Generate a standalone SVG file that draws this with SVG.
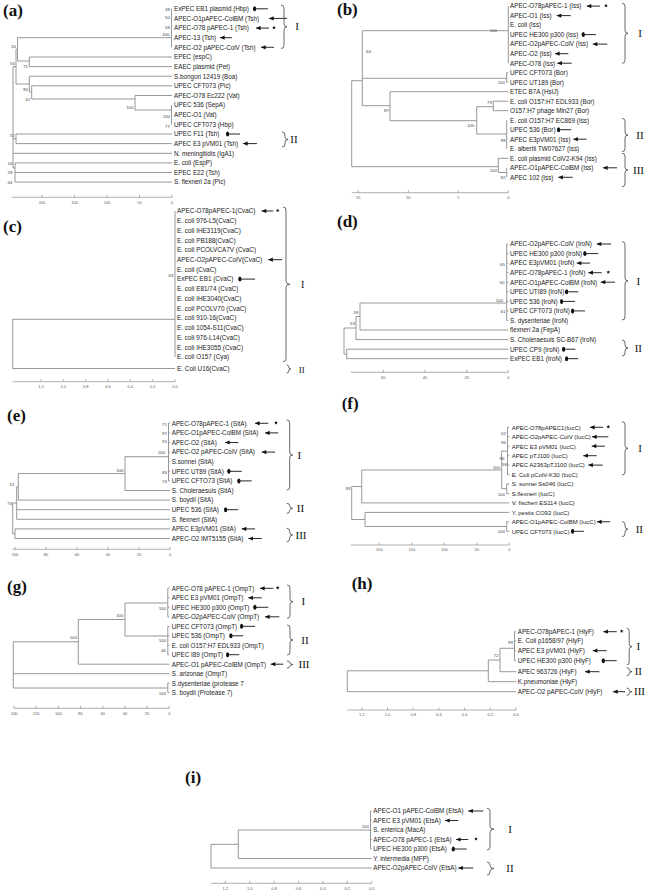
<svg xmlns="http://www.w3.org/2000/svg" xmlns:xlink="http://www.w3.org/1999/xlink" width="646" height="892" viewBox="0 0 646 892">
<style>
text{font-family:"Liberation Sans",Arial,sans-serif;fill:#222}
.pl{font-family:"Liberation Serif","Times New Roman",serif;font-weight:bold;font-size:17px;fill:#111}
.rn{font-family:"Liberation Serif","Times New Roman",serif;font-size:11px;fill:#111;text-anchor:middle}
.bs{font-size:4.4px;fill:#444;text-anchor:end}
.tk{font-size:4px;fill:#555;text-anchor:middle}
.tr{fill:none;stroke:#8c8c8c;stroke-width:0.9}
.ax{fill:none;stroke:#8c8c8c;stroke-width:0.7}
.br{fill:none;stroke:#444;stroke-width:0.8}
.ap{stroke:#111;stroke-width:0.9;marker-start:url(#tri)}
.up{stroke:#111;stroke-width:0.9;marker-start:url(#ov)}
.st{fill:#111}
</style>
<defs>
<marker id="tri" markerUnits="userSpaceOnUse" markerWidth="5" markerHeight="5" viewBox="0 0 5 5" refX="0" refY="2.5" orient="0"><path d="M0,2.5 L4.6,0.4 L4.6,4.6 Z" fill="#111"/></marker>
<marker id="ov" markerUnits="userSpaceOnUse" markerWidth="5" markerHeight="6" viewBox="0 0 5 6" refX="0.3" refY="3" orient="0"><ellipse cx="1.9" cy="3" rx="1.6" ry="2.5" fill="#111"/></marker>
<polygon id="star" class="st" points="0,-2 0.5,-0.69 1.9,-0.62 0.81,0.26 1.18,1.62 0,0.85 -1.18,1.62 -0.81,0.26 -1.9,-0.62 -0.5,-0.69"/>
</defs>
<rect width="646" height="892" fill="#fff"/>

<!-- PANEL A -->
<g id="panel-a" font-size="6.3">
<text class="pl" x="3" y="15.5">(a)</text>
<g id="a-connectors">
<path class="tr" d="M171.5,8.8V47.3M17.5,37.7H171.5M29.3,57V66.6M29.3,57H172M29.3,66.6H172M17.5,61H29.3M17.5,37.7V61M16,49.3V84M16,49.3H17.5M16,84H29.3M29.3,76.2V92M29.3,76.2H172M29.3,92H31.7M31.7,85.8V99M31.7,85.8H172M31.7,99H135M135,95.5V110M135,95.5H172M135,110H171.5M171.5,105.1V124.4M13,66.6V168M13,66.6H16M13,138.8H16M16,134V143.6M16,134H172M16,143.6H172M13,153.3H172M13,168H15M15,162.9V182.1M15,162.9H172M15,172.5H172M15,182.1H172"/>
<path class="ax" d="M12.3,197.3H172M42,194.8V197.3M74.5,194.8V197.3M107,194.8V197.3M139.5,194.8V197.3M172,194.8V197.3"/>
</g>
<g id="a-support">
<text class="bs" x="170" y="10.6">48</text><text class="bs" x="170" y="19.2">50</text><text class="bs" x="170" y="28.6">58</text><text class="bs" x="169.5" y="35.5">100</text>
<text class="bs" x="16" y="48">26</text><text class="bs" x="28" y="68">71</text><text class="bs" x="28" y="91">90</text><text class="bs" x="30.5" y="100.5">62</text>
<text class="bs" x="133.5" y="109">100</text><text class="bs" x="170" y="118">100</text><text class="bs" x="170" y="127.5">77</text>
<text class="bs" x="15" y="64.5">55</text><text class="bs" x="14.5" y="136.5">72</text><text class="bs" x="12.5" y="164.5">16</text><text class="bs" x="12.5" y="174">29</text><text class="bs" x="12.5" y="183.5">44</text>
</g>
<g id="a-scale">
<text class="tk" x="42" y="203.5">200</text><text class="tk" x="74.5" y="203.5">150</text><text class="tk" x="107" y="203.5">100</text><text class="tk" x="139.5" y="203.5">50</text><text class="tk" x="172" y="203.5">0</text>
</g>
<g id="a-n0"><text x="174" y="11.1">ExPEC EB1 plasmid (Hbp)</text><line class="up" x1="253" y1="8.8" x2="268" y2="8.8"/></g>
<g id="a-n1"><text x="174" y="20.7">APEC-O1pAPEC-ColBM (Tsh)</text><line class="ap" x1="269" y1="18.4" x2="287" y2="18.4"/></g>
<g id="a-n2"><text x="174" y="30.4">APEC-O78 pAPEC-1 (Tsh)</text><line class="ap" x1="256" y1="28.1" x2="269" y2="28.1"/><use href="#star" x="274" y="27.6"/></g>
<g id="a-n3"><text x="174" y="40">APEC-13 (Tsh)</text><line class="ap" x1="220" y1="37.7" x2="232" y2="37.7"/></g>
<g id="a-n4"><text x="174" y="49.6">APEC-O2 pAPEC-ColV (Tsh)</text><line class="ap" x1="261" y1="47.3" x2="274" y2="47.3"/></g>
<g id="a-n5"><text x="174" y="59.3">EPEC (espC)</text></g>
<g id="a-n6"><text x="174" y="68.9">EAEC plasmid (Pet)</text></g>
<g id="a-n7"><text x="174" y="78.5">S.bongori 12419 (Boa)</text></g>
<g id="a-n8"><text x="174" y="88.1">UPEC CFT073 (Pic)</text></g>
<g id="a-n9"><text x="174" y="97.8">APEC-O78 Ec222 (Vat)</text></g>
<g id="a-n10"><text x="174" y="107.4">UPEC 536 (SepA)</text></g>
<g id="a-n11"><text x="174" y="117">APEC-O1 (Vat)</text></g>
<g id="a-n12"><text x="174" y="126.7">UPEC CFT073 (Hbp)</text></g>
<g id="a-n13"><text x="174" y="136.3">UPEC F11 (Tsh)</text><line class="up" x1="226" y1="134" x2="240" y2="134"/></g>
<g id="a-n14"><text x="174" y="145.9">APEC E3 pVM01 (Tsh)</text><line class="ap" x1="243" y1="143.6" x2="257" y2="143.6"/></g>
<g id="a-n15"><text x="174" y="155.6">N. meningitidis (IgA1)</text></g>
<g id="a-n16"><text x="174" y="165.2">E. coli (EspP)</text></g>
<g id="a-n17"><text x="174" y="174.8">EPEC E22 (Tsh)</text></g>
<g id="a-n18"><text x="174" y="184.4">S. flexneri 2a (Pic)</text></g>
<g id="a-groups">
<path class="br" d="M281,5 Q284,5 284,8 L284,23.75 Q284,26.75 287,26.75 Q284,26.75 284,29.75 L284,45.5 Q284,48.5 281,48.5"/>
<path class="br" d="M282,132 Q285,132 285,135 L285,136.5 Q285,139.5 288,139.5 Q285,139.5 285,142.5 L285,144 Q285,147 282,147"/>
<text class="rn" x="297" y="30">I</text><text class="rn" x="294" y="143">II</text>
</g>
</g>

<!-- PANEL B -->
<g id="panel-b" font-size="6.3">
<text class="pl" x="337" y="15">(b)</text>
<g id="b-connectors">
<path class="tr" d="M508.3,6.1V63.2M362.3,30.7H508.3M506.7,72.7V82.2M506.7,72.7H508.3M506.7,82.2H508.3M362.3,78.3H506.7M362.3,30.7V105.7M351.7,80.7H362.3M362.3,105.7H390M390,91.7V120.7M390,91.7H508.3M390,120.7H476.7M476.7,106.7V134M476.7,106.7H493.3M493.3,101.2V110.7M493.3,101.2H508.3M493.3,110.7H508.3M476.7,134H506.7M506.7,120.2V148.7M351.7,80.7V166.7M351.7,166.7H498.3M498.3,158.3V172.5M498.3,158.3H508.3M498.3,172.5H506.7M506.7,167.8V177.3"/>
<path class="ax" d="M351.7,192.7H508.3M358.3,190.2V192.7M408.3,190.2V192.7M458.3,190.2V192.7M508.3,190.2V192.7"/>
</g>
<g id="b-support">
<text class="bs" x="497" y="32">100</text><text class="bs" x="371" y="53">64</text><text class="bs" x="505" y="84">100</text><text class="bs" x="389" y="112">87</text><text class="bs" x="492" y="104">79</text><text class="bs" x="474.5" y="126.5">100</text><text class="bs" x="505.5" y="141.5">99</text><text class="bs" x="497" y="171.5">100</text><text class="bs" x="505.5" y="179">92</text>
</g>
<g id="b-scale">
<text class="tk" x="358.3" y="199">15</text><text class="tk" x="408.3" y="199">10</text><text class="tk" x="458.3" y="199">5</text><text class="tk" x="508.3" y="199">0</text>
</g>
<g id="b-n0"><text x="510" y="8.4">APEC-O78pAPEC-1 (Iss)</text><line class="ap" x1="586.7" y1="6.1" x2="600" y2="6.1"/><use href="#star" x="606" y="5.6"/></g>
<g id="b-n1"><text x="510" y="17.9">APEC-O1 (Iss)</text><line class="ap" x1="556.7" y1="15.6" x2="570.7" y2="15.6"/></g>
<g id="b-n2"><text x="510" y="27.4">E. coli (Iss)</text></g>
<g id="b-n3"><text x="510" y="36.9">UPEC HE300 p300 (Iss)</text><line class="up" x1="581.7" y1="34.6" x2="596" y2="34.6"/></g>
<g id="b-n4"><text x="510" y="46.4">APEC-O2pAPEC-ColV (Iss)</text><line class="ap" x1="592.7" y1="44.1" x2="607.3" y2="44.1"/></g>
<g id="b-n5"><text x="510" y="56">APEC-O2 (Iss)</text><line class="ap" x1="555" y1="53.7" x2="568.3" y2="53.7"/></g>
<g id="b-n6"><text x="510" y="65.5">APEC-O78 (Iss)</text><line class="ap" x1="557.3" y1="63.2" x2="571.7" y2="63.2"/></g>
<g id="b-n7"><text x="510" y="75">UPEC CFT073 (Bor)</text></g>
<g id="b-n8"><text x="510" y="84.5">UPEC UT189 (Bor)</text></g>
<g id="b-n9"><text x="510" y="94">ETEC B7A (HsIJ)</text></g>
<g id="b-n10"><text x="510" y="103.5">E. coli O157:H7 EDL933 (Bor)</text></g>
<g id="b-n11"><text x="510" y="113">O157:H7 phage Min27 (Bor)</text></g>
<g id="b-n12"><text x="510" y="122.5">E. coli O157:H7 EC869 (Iss)</text></g>
<g id="b-n13"><text x="510" y="132">UPEC 536 (Bor)</text><line class="up" x1="557" y1="129.7" x2="571.3" y2="129.7"/></g>
<g id="b-n14"><text x="510" y="141.5">APEC E3pVM01 (Iss)</text><line class="ap" x1="573.3" y1="139.2" x2="586.7" y2="139.2"/></g>
<g id="b-n15"><text x="510" y="151">E. albertii TW07627 (Iss)</text></g>
<g id="b-n16"><text x="510" y="160.6">E. coli plasmid ColV2-K94 (Iss)</text></g>
<g id="b-n17"><text x="510" y="170.1">APEC-O1pAPEC-ColBM (Iss)</text><line class="ap" x1="603" y1="167.8" x2="617" y2="167.8"/></g>
<g id="b-n18"><text x="510" y="179.6">APEC 102 (Iss)</text><line class="ap" x1="558.3" y1="177.3" x2="572.7" y2="177.3"/></g>
<g id="b-groups">
<path class="br" d="M622,3.3 Q625,3.3 625,6.3 L625,30.3 Q625,33.3 628,33.3 Q625,33.3 625,36.3 L625,60.3 Q625,63.3 622,63.3"/>
<path class="br" d="M622,118.3 Q625,118.3 625,121.3 L625,132 Q625,135 628,135 Q625,135 625,138 L625,148.7 Q625,151.7 622,151.7"/>
<path class="br" d="M622,153.3 Q625,153.3 625,156.3 L625,167 Q625,170 628,170 Q625,170 625,173 L625,183.7 Q625,186.7 622,186.7"/>
<text class="rn" x="640" y="37">I</text><text class="rn" x="640" y="138.5">II</text><text class="rn" x="638.5" y="173.5">III</text>
</g>
</g>

<!-- PANEL C -->
<g id="panel-c" font-size="6.4">
<text class="pl" x="3" y="232">(c)</text>
<g id="c-connectors">
<path class="tr" d="M175,211V357M12.7,319.3V368.5M12.7,319.3H175M12.7,368.5H175"/>
<path class="ax" d="M12.7,381.7H175M41,379.2V381.7M63.3,379.2V381.7M85.7,379.2V381.7M108,379.2V381.7M130.3,379.2V381.7M152.7,379.2V381.7M175,379.2V381.7"/>
</g>
<g id="c-support"><text class="bs" x="173.5" y="277">63</text></g>
<g id="c-scale">
<text class="tk" x="41" y="388">1.2</text><text class="tk" x="63.3" y="388">1.0</text><text class="tk" x="85.7" y="388">0.8</text><text class="tk" x="108" y="388">0.6</text><text class="tk" x="130.3" y="388">0.4</text><text class="tk" x="152.7" y="388">0.2</text><text class="tk" x="175" y="388">0.0</text>
</g>
<g id="c-n0"><text x="177" y="213.3">APEC-O78pAPEC-1(CvaC)</text><line class="ap" x1="261.7" y1="211" x2="273.3" y2="211"/><use href="#star" x="277.7" y="210.5"/></g>
<g id="c-n1"><text x="177" y="223">E. coli 976-L5(CvaC)</text></g>
<g id="c-n2"><text x="177" y="232.8">E. coli IHE3119(CvaC)</text></g>
<g id="c-n3"><text x="177" y="242.5">E. coli PB188(CvaC)</text></g>
<g id="c-n4"><text x="177" y="252.2">E. coli PCOLVCA7V (CvaC)</text></g>
<g id="c-n5"><text x="177" y="262">APEC-O2pAPEC-ColV(CvaC)</text><line class="ap" x1="268.3" y1="259.7" x2="282" y2="259.7"/></g>
<g id="c-n6"><text x="177" y="271.7">E. coli (CvaC)</text></g>
<g id="c-n7"><text x="177" y="281.4">ExPEC EB1 (CvaC)</text><line class="up" x1="238.3" y1="279.1" x2="255" y2="279.1"/></g>
<g id="c-n8"><text x="177" y="291.1">E. coli E81/74 (CvaC)</text></g>
<g id="c-n9"><text x="177" y="300.9">E. coli IHE3040(CvaC)</text></g>
<g id="c-n10"><text x="177" y="310.6">E. coli PCOLV70 (CvaC)</text></g>
<g id="c-n11"><text x="177" y="320.3">E. coli 910-16(CvaC)</text></g>
<g id="c-n12"><text x="177" y="330.1">E. coli 1054-S11(CvaC)</text></g>
<g id="c-n13"><text x="177" y="339.8">E. coli 976-L14(CvaC)</text></g>
<g id="c-n14"><text x="177" y="349.5">E. coli IHE3055 (CvaC)</text></g>
<g id="c-n15"><text x="177" y="359.3">E. coli O157 (Cya)</text></g>
<g id="c-n16"><text x="177" y="370.8">E. Coli U16(CvaC)</text></g>
<g id="c-groups">
<path class="br" d="M283,207 Q286,207 286,210 L286,281.3 Q286,284.3 290,284.3 Q286,284.3 286,287.3 L286,358.7 Q286,361.7 283,361.7"/>
<path class="br" d="M286.7,365 Q288.7,365 288.7,367 Q288.7,369 291,369 Q288.7,369 288.7,371 Q288.7,373 286.7,373"/>
<text class="rn" x="302.7" y="288" style="font-size:10px">I</text><text class="rn" x="301.7" y="372.5" style="font-size:9px">II</text>
</g>
</g>

<!-- PANEL D -->
<g id="panel-d" font-size="6.3">
<text class="pl" x="337" y="227">(d)</text>
<g id="d-connectors">
<path class="tr" d="M506.7,244V320.5M506.7,244H508.3M506.7,253.6H508.3M506.7,263.1H508.3M506.7,272.7H508.3M506.7,282.2H508.3M506.7,291.8H508.3M506.7,301.4H508.3M506.7,310.9H508.3M506.7,320.5H508.3M360,303H506.7M360,303V330M360,330H508.3M356,316.5V339.6M356,316.5H360M356,339.6H508.3M344,328V354M344,328H356M344,354H346.7M346.7,349.2V358.7M346.7,349.2H508.3M346.7,358.7H508.3"/>
<path class="ax" d="M350.7,372.3H508.3M383.3,369.8V372.3M425,369.8V372.3M466.7,369.8V372.3M508.3,369.8V372.3"/>
</g>
<g id="d-support">
<text class="bs" x="505" y="265.5">65</text><text class="bs" x="504.5" y="284">50</text><text class="bs" x="503" y="301.5">100</text><text class="bs" x="505.5" y="312.5">61</text><text class="bs" x="358.5" y="313.5">59</text><text class="bs" x="355" y="324.5">53</text>
</g>
<g id="d-scale">
<text class="tk" x="383.3" y="378.7">60</text><text class="tk" x="425" y="378.7">40</text><text class="tk" x="466.7" y="378.7">20</text><text class="tk" x="508.3" y="378.7">0</text>
</g>
<g id="d-n0"><text x="510" y="246.3">APEC-O2pAPEC-ColV (IroN)</text><line class="ap" x1="596.7" y1="244" x2="611" y2="244"/></g>
<g id="d-n1"><text x="510" y="255.9">UPEC HE300 p300 (IroN)</text><line class="up" x1="583.3" y1="253.6" x2="598.3" y2="253.6"/></g>
<g id="d-n2"><text x="510" y="265.4">APEC E3pVM01 (IroN)</text><line class="ap" x1="576.7" y1="263.1" x2="590" y2="263.1"/></g>
<g id="d-n3"><text x="510" y="275">APEC-O78pAPEC-1 (IroN)</text><line class="ap" x1="588.3" y1="272.7" x2="601.7" y2="272.7"/><use href="#star" x="608.3" y="272.2"/></g>
<g id="d-n4"><text x="510" y="284.5">APEC-O1pAPEC-ColBM (IroN)</text><line class="ap" x1="600.7" y1="282.2" x2="615" y2="282.2"/></g>
<g id="d-n5"><text x="510" y="294.1">UPEC UTI89 (IroN)</text><line class="up" x1="565" y1="291.8" x2="578.3" y2="291.8"/></g>
<g id="d-n6"><text x="510" y="303.7">UPEC 536 (IroN)</text><line class="up" x1="560" y1="301.4" x2="575" y2="301.4"/></g>
<g id="d-n7"><text x="510" y="313.2">UPEC CFT073 (IroN)</text><line class="up" x1="571" y1="310.9" x2="585" y2="310.9"/></g>
<g id="d-n8"><text x="510" y="322.8">S. dysenteriae (IroN)</text></g>
<g id="d-n9"><text x="510" y="332.3">flexneri 2a (FepA)</text></g>
<g id="d-n10"><text x="510" y="341.9">S. Choleraesuis SC-B67 (IroN)</text></g>
<g id="d-n11"><text x="510" y="351.5">UPEC CP9 (IroN)</text><line class="up" x1="562" y1="349.2" x2="575.3" y2="349.2"/></g>
<g id="d-n12"><text x="510" y="361">ExPEC EB1 (IroN)</text><line class="up" x1="565" y1="358.7" x2="578.3" y2="358.7"/></g>
<g id="d-groups">
<path class="br" d="M622,241.7 Q625,241.7 625,244.7 L625,277.9 Q625,280.9 628,280.9 Q625,280.9 625,283.9 L625,317 Q625,320 622,320"/>
<path class="br" d="M622,340 Q625,340 625,343 L625,345 Q625,348 628,348 Q625,348 625,351 L625,353 Q625,356 622,356"/>
<text class="rn" x="638.3" y="284.5">I</text><text class="rn" x="638.3" y="351.5">II</text>
</g>
</g>

<!-- PANEL E -->
<g id="panel-e" font-size="6.3">
<text class="pl" x="7" y="420.5">(e)</text>
<g id="e-connectors">
<path class="tr" d="M168.5,423.3V480.9M168.5,423.3H170M168.5,432.9H170M168.5,442.5H170M168.5,452.1H170M168.5,461.7H170M168.5,471.3H170M168.5,480.9H170M125,456.7H168.5M125,456.7V490.5M125,490.5H170M18.3,473.6H125M18.3,473.6V500.1M18.3,500.1H170M16.7,486.8V519.3M16.7,486.8H18.3M16.7,509.7H170M16.7,519.3H170M12.7,503V533.7M12.7,503H16.7M12.7,533.7H15M15,528.9V538.5M15,528.9H170M15,538.5H170"/>
<path class="ax" d="M12.7,549.3H170M15,546.8V549.3M46,546.8V549.3M77,546.8V549.3M108,546.8V549.3M139,546.8V549.3M170,546.8V549.3"/>
</g>
<g id="e-support">
<text class="bs" x="167" y="425.5">71</text><text class="bs" x="167" y="434.5">97</text><text class="bs" x="167" y="442.5">55</text><text class="bs" x="165" y="453.5">100</text><text class="bs" x="167" y="474">83</text><text class="bs" x="167" y="482.5">74</text><text class="bs" x="123.5" y="471.5">100</text><text class="bs" x="14.5" y="485.5">51</text><text class="bs" x="12" y="505">73</text>
</g>
<g id="e-scale">
<text class="tk" x="15" y="555.7">100</text><text class="tk" x="46" y="555.7">80</text><text class="tk" x="77" y="555.7">60</text><text class="tk" x="108" y="555.7">40</text><text class="tk" x="139" y="555.7">20</text><text class="tk" x="170" y="555.7">0</text>
</g>
<g id="e-n0"><text x="171.7" y="425.6">APEC-O78pAPEC-1 (SitA)</text><line class="ap" x1="255" y1="423.3" x2="268.3" y2="423.3"/><use href="#star" x="276" y="422.8"/></g>
<g id="e-n1"><text x="171.7" y="435.2">APEC-O1pAPEC-ColBM (SitA)</text><line class="ap" x1="265" y1="432.9" x2="278.3" y2="432.9"/></g>
<g id="e-n2"><text x="171.7" y="444.8">APEC-O2 (SitA)</text><line class="ap" x1="225" y1="442.5" x2="238.3" y2="442.5"/></g>
<g id="e-n3"><text x="171.7" y="454.4">APEC-O2 pAPEC-ColV (SitA)</text><line class="ap" x1="261.7" y1="452.1" x2="275" y2="452.1"/></g>
<g id="e-n4"><text x="171.7" y="464">S.sonnei (SitA)</text></g>
<g id="e-n5"><text x="171.7" y="473.6">UPEC UT89 (SitA)</text><line class="up" x1="227.3" y1="471.3" x2="241.7" y2="471.3"/></g>
<g id="e-n6"><text x="171.7" y="483.2">UPEC CFTO73 (SitA)</text><line class="up" x1="237.3" y1="480.9" x2="251.7" y2="480.9"/></g>
<g id="e-n7"><text x="171.7" y="492.8">S. Choleraesuis (SitA)</text></g>
<g id="e-n8"><text x="171.7" y="502.4">S. boydii (SitA)</text></g>
<g id="e-n9"><text x="171.7" y="512">UPEC 536 (SitA)</text><line class="up" x1="224" y1="509.7" x2="238.3" y2="509.7"/></g>
<g id="e-n10"><text x="171.7" y="521.6">S. flexneri (SitA)</text></g>
<g id="e-n11"><text x="171.7" y="531.2">APEC E3pVM01 (SitA)</text><line class="ap" x1="241.7" y1="528.9" x2="255" y2="528.9"/></g>
<g id="e-n12"><text x="171.7" y="540.8">APEC-O2 IMT5155 (SitA)</text><line class="ap" x1="248.3" y1="538.5" x2="261.7" y2="538.5"/></g>
<g id="e-groups">
<path class="br" d="M286.7,420 Q289.7,420 289.7,423 L289.7,452 Q289.7,455 292.7,455 Q289.7,455 289.7,458 L289.7,487 Q289.7,490 286.7,490"/>
<path class="br" d="M286.7,503.3 Q289.7,503.3 289.7,505.8 Q289.7,508.3 292.7,508.3 Q289.7,508.3 289.7,510.8 Q289.7,513.3 286.7,513.3"/>
<path class="br" d="M286.7,528.3 Q289.7,528.3 289.7,531.3 L289.7,532 Q289.7,535 292.7,535 Q289.7,535 289.7,538 L289.7,538.7 Q289.7,541.7 286.7,541.7"/>
<text class="rn" x="299.3" y="458.5">I</text><text class="rn" x="300.5" y="511.8">II</text><text class="rn" x="301" y="538.5">III</text>
</g>
</g>

<!-- PANEL F -->
<g id="panel-f" font-size="6">
<text class="pl" x="341.7" y="408.5">(f)</text>
<g id="f-connectors">
<path class="tr" d="M507.5,427.3V474.6M507.5,427.3H509.3M507.5,436.8H509.3M507.5,446.2H509.3M507.5,455.7H509.3M507.5,465.1H509.3M507.5,474.6H509.3M501.7,451H507.5M501.7,451V488.7M501.7,488.7H506.7M506.7,484V493.5M506.7,484H509.3M506.7,493.5H509.3M361.7,470H501.7M361.7,470V502.9M361.7,502.9H509.3M351.7,486.5V519.5M351.7,486.5H361.7M351.7,519.5H365M365,512.4V526.5M365,512.4H509.3M365,526.5H506.7M506.7,521.8V531.3M506.7,521.8H509.3M506.7,531.3H509.3"/>
<path class="ax" d="M350.7,545H509.3M379.3,542.5V545M411.8,542.5V545M444.3,542.5V545M476.8,542.5V545M509.3,542.5V545"/>
</g>
<g id="f-support">
<text class="bs" x="506" y="434.5">62</text><text class="bs" x="506" y="444">96</text><text class="bs" x="504.5" y="459.5">96</text><text class="bs" x="507" y="466">59</text><text class="bs" x="500" y="468.5">100</text><text class="bs" x="505" y="495.5">100</text><text class="bs" x="350.5" y="489.5">93</text><text class="bs" x="505" y="533">100</text>
</g>
<g id="f-scale">
<text class="tk" x="379.3" y="551.4">200</text><text class="tk" x="411.8" y="551.4">150</text><text class="tk" x="444.3" y="551.4">100</text><text class="tk" x="476.8" y="551.4">50</text><text class="tk" x="509.3" y="551.4">0</text>
</g>
<g id="f-n0"><text x="511.7" y="429.6">APEC-O78pAPEC1(IucC)</text><line class="ap" x1="590" y1="427.3" x2="603.3" y2="427.3"/><use href="#star" x="608.3" y="426.8"/></g>
<g id="f-n1"><text x="511.7" y="439.1">APEC-O2pAPEC-ColV (IucC)</text><line class="ap" x1="592" y1="436.8" x2="608.3" y2="436.8"/></g>
<g id="f-n2"><text x="511.7" y="448.5">APEC E3 pVM01 (IucC)</text><line class="ap" x1="591.7" y1="446.2" x2="605" y2="446.2"/></g>
<g id="f-n3"><text x="511.7" y="458">APEC pTJ100 (IucC)</text><line class="ap" x1="583.3" y1="455.7" x2="596.7" y2="455.7"/></g>
<g id="f-n4"><text x="511.7" y="467.4">APEC A2363pTJ100 (IucC)</text><line class="ap" x1="588.3" y1="465.1" x2="602.7" y2="465.1"/></g>
<g id="f-n5"><text x="511.7" y="476.9">E. Coli pColV-K30 (IucC)</text></g>
<g id="f-n6"><text x="511.7" y="486.3">S. sonnei Ss046 (IucC)</text></g>
<g id="f-n7"><text x="511.7" y="495.8">S.flexneri (IucC)</text></g>
<g id="f-n8"><text x="511.7" y="505.2">V. fischeri ES114 (IucC)</text></g>
<g id="f-n9"><text x="511.7" y="514.7">Y. pestis CO92 (IucC)</text></g>
<g id="f-n10"><text x="511.7" y="524.1">APEC-O1pAPEC-ColBM (IucC)</text><line class="ap" x1="597" y1="521.8" x2="610" y2="521.8"/></g>
<g id="f-n11"><text x="511.7" y="533.6">UPEC CFT073 (IucC)</text><line class="up" x1="571" y1="531.3" x2="584" y2="531.3"/></g>
<g id="f-groups">
<path class="br" d="M622,421.7 Q625,421.7 625,424.7 L625,445.3 Q625,448.3 628,448.3 Q625,448.3 625,451.3 L625,472 Q625,475 622,475"/>
<path class="br" d="M622,521.7 Q625,521.7 625,524.7 L625,526.2 Q625,529.2 628,529.2 Q625,529.2 625,532.2 L625,533.7 Q625,536.7 622,536.7"/>
<text class="rn" x="640" y="452">I</text><text class="rn" x="639.3" y="532.7">II</text>
</g>
</g>

<!-- PANEL G -->
<g id="panel-g" font-size="6.3">
<text class="pl" x="7" y="592">(g)</text>
<g id="g-connectors">
<path class="tr" d="M167.8,588.3V616.8M167.8,588.3H169.3M167.8,597.8H169.3M167.8,607.3H169.3M167.8,616.8H169.3M125,603H167.8M167.8,626.3V654.7M167.8,626.3H169.3M167.8,635.8H169.3M167.8,645.2H169.3M167.8,654.7H169.3M125,636H167.8M125,603V636M78.3,619.5H125M78.3,619.5V664.2M78.3,664.2H169.3M13.3,641.8H78.3M13.3,641.8V688M13.3,673.7H169.3M13.3,688H167.8M167.8,683.2V692.7M167.8,683.2H169.3M167.8,692.7H169.3"/>
<path class="ax" d="M14,708.3H169.3M14,705.8V708.3M36.2,705.8V708.3M58.4,705.8V708.3M80.6,705.8V708.3M102.8,705.8V708.3M124.9,705.8V708.3M147.1,705.8V708.3M169.3,705.8V708.3"/>
</g>
<g id="g-support">
<text class="bs" x="166" y="610">100</text><text class="bs" x="123.5" y="617">100</text><text class="bs" x="77" y="638.5">100</text><text class="bs" x="166" y="641.5">100</text><text class="bs" x="166" y="651.5">46</text><text class="bs" x="166" y="694.5">100</text>
</g>
<g id="g-scale">
<text class="tk" x="14" y="714.7">140</text><text class="tk" x="36.2" y="714.7">120</text><text class="tk" x="58.4" y="714.7">100</text><text class="tk" x="80.6" y="714.7">80</text><text class="tk" x="102.8" y="714.7">60</text><text class="tk" x="124.9" y="714.7">40</text><text class="tk" x="147.1" y="714.7">20</text><text class="tk" x="169.3" y="714.7">0</text>
</g>
<g id="g-n0"><text x="171.7" y="590.6">APEC-O78 pAPEC-1 (OmpT)</text><line class="ap" x1="260" y1="588.3" x2="273.3" y2="588.3"/><use href="#star" x="277.7" y="587.8"/></g>
<g id="g-n1"><text x="171.7" y="600.1">APEC E3 pVM01 (OmpT)</text><line class="ap" x1="248.3" y1="597.8" x2="261.7" y2="597.8"/></g>
<g id="g-n2"><text x="171.7" y="609.6">UPEC HE300 p300 (OmpT)</text><line class="up" x1="253.3" y1="607.3" x2="268.3" y2="607.3"/></g>
<g id="g-n3"><text x="171.7" y="619.1">APEC-O2pAPEC-ColV (OmpT)</text><line class="ap" x1="265" y1="616.8" x2="279.3" y2="616.8"/></g>
<g id="g-n4"><text x="171.7" y="628.6">UPEC CFT073 (OmpT)</text><line class="up" x1="240" y1="626.3" x2="255" y2="626.3"/></g>
<g id="g-n5"><text x="171.7" y="638.1">UPEC 536 (OmpT)</text><line class="up" x1="229.3" y1="635.8" x2="243.3" y2="635.8"/></g>
<g id="g-n6"><text x="171.7" y="647.5">E. coli O157:H7 EDL933 (OmpT)</text></g>
<g id="g-n7"><text x="171.7" y="657">UPEC I89 (OmpT)</text><line class="up" x1="226" y1="654.7" x2="239.3" y2="654.7"/></g>
<g id="g-n8"><text x="171.7" y="666.5">APEC-O1 pAPEC-ColBM (OmpT)</text><line class="ap" x1="270.7" y1="664.2" x2="283.3" y2="664.2"/></g>
<g id="g-n9"><text x="171.7" y="676">S. arizonae (OmpT)</text></g>
<g id="g-n10"><text x="171.7" y="685.5">S.dysenteriae (protease 7</text></g>
<g id="g-n11"><text x="171.7" y="695">S. boydii (Protease 7)</text></g>
<g id="g-groups">
<path class="br" d="M287,585 Q290,585 290,588 L290,598.7 Q290,601.7 293,601.7 Q290,601.7 290,604.7 L290,615.3 Q290,618.3 287,618.3"/>
<path class="br" d="M287,625 Q290,625 290,628 L290,637 Q290,640 293,640 Q290,640 290,643 L290,652 Q290,655 287,655"/>
<path class="br" d="M287,661 Q290,661 290,662.75 Q290,664.5 293,664.5 Q290,664.5 290,666.25 Q290,668 287,668"/>
<text class="rn" x="303.3" y="605.2">I</text><text class="rn" x="305" y="643.5">II</text><text class="rn" x="304" y="668">III</text>
</g>
</g>

<!-- PANEL H -->
<g id="panel-h" font-size="6.3">
<text class="pl" x="351.7" y="588.5">(h)</text>
<g id="h-connectors">
<path class="tr" d="M514.5,631.7V660.7M514.5,631.7H516M514.5,641H516M514.5,650.7H516M514.5,660.7H516M500,648.3H514.5M500,648.3V671.7M500,671.7H516M488.3,660H500M488.3,660V681.7M488.3,681.7H516M347.3,670.8V691.7M347.3,670.8H488.3M347.3,691.7H516"/>
<path class="ax" d="M347.3,710H516M361.8,707.5V710M387.5,707.5V710M413.2,707.5V710M438.9,707.5V710M464.6,707.5V710M490.3,707.5V710M516,707.5V710"/>
</g>
<g id="h-support"><text class="bs" x="513" y="644">99</text><text class="bs" x="498.5" y="656.5">72</text></g>
<g id="h-scale">
<text class="tk" x="361.8" y="716.4">1.2</text><text class="tk" x="387.5" y="716.4">1.0</text><text class="tk" x="413.2" y="716.4">0.8</text><text class="tk" x="438.9" y="716.4">0.6</text><text class="tk" x="464.6" y="716.4">0.4</text><text class="tk" x="490.3" y="716.4">0.2</text><text class="tk" x="516" y="716.4">0.0</text>
</g>
<g id="h-n0"><text x="517.7" y="634">APEC-O78pAPEC-1 (HlyF)</text><line class="ap" x1="603.3" y1="631.7" x2="616.7" y2="631.7"/><use href="#star" x="621.7" y="631.2"/></g>
<g id="h-n1"><text x="517.7" y="643.3">E. Coli p1658/97 (HlyF)</text></g>
<g id="h-n2"><text x="517.7" y="653">APEC E3 pVM01 (HlyF)</text><line class="ap" x1="592.7" y1="650.7" x2="606.7" y2="650.7"/></g>
<g id="h-n3"><text x="517.7" y="663">UPEC HE300 p300 (HlyF)</text><line class="up" x1="601.7" y1="660.7" x2="616.7" y2="660.7"/></g>
<g id="h-n4"><text x="517.7" y="674">APEC 963726 (HlyF)</text><line class="ap" x1="585" y1="671.7" x2="599.3" y2="671.7"/></g>
<g id="h-n5"><text x="517.7" y="684">K.pneumoniae (HlyF)</text></g>
<g id="h-n6"><text x="517.7" y="694">APEC-O2 pAPEC-ColV (HlyF)</text><line class="ap" x1="613" y1="691.7" x2="625" y2="691.7"/></g>
<g id="h-groups">
<path class="br" d="M626.7,628.3 Q629.2,628.3 629.2,631.3 L629.2,643.7 Q629.2,646.7 632,646.7 Q629.2,646.7 629.2,649.7 L629.2,662 Q629.2,665 626.7,665"/>
<path class="br" d="M626.7,667.7 Q629.2,667.7 629.2,669.7 Q629.2,671.7 632,671.7 Q629.2,671.7 629.2,673.7 Q629.2,675.7 626.7,675.7"/>
<path class="br" d="M626.7,688 Q629.2,688 629.2,689.85 Q629.2,691.7 632,691.7 Q629.2,691.7 629.2,693.55 Q629.2,695.4 626.7,695.4"/>
<text class="rn" x="638.3" y="650.2">I</text><text class="rn" x="638.3" y="675.2">II</text><text class="rn" x="639.5" y="695.2">III</text>
</g>
</g>

<!-- PANEL I -->
<g id="panel-i" font-size="6.3">
<text class="pl" x="185" y="783">(i)</text>
<g id="i-connectors">
<path class="tr" d="M370.5,811V849M370.5,811H371.7M370.5,820.5H371.7M370.5,830H371.7M370.5,839.5H371.7M370.5,849H371.7M238.3,830H370.5M238.3,830V858.5M238.3,858.5H371.7M211,844.3V868M211,844.3H238.3M211,868H371.7"/>
<path class="ax" d="M211,883.3H371.7M225.3,880.8V883.3M249.7,880.8V883.3M274.1,880.8V883.3M298.5,880.8V883.3M322.9,880.8V883.3M347.3,880.8V883.3M371.7,880.8V883.3"/>
</g>
<g id="i-support"><text class="bs" x="369" y="828">100</text></g>
<g id="i-scale">
<text class="tk" x="225.3" y="889.7">1.2</text><text class="tk" x="249.7" y="889.7">1.0</text><text class="tk" x="274.1" y="889.7">0.8</text><text class="tk" x="298.5" y="889.7">0.6</text><text class="tk" x="322.9" y="889.7">0.4</text><text class="tk" x="347.3" y="889.7">0.2</text><text class="tk" x="371.7" y="889.7">0.0</text>
</g>
<g id="i-n0"><text x="373.3" y="813.3">APEC-O1 pAPEC-ColBM (EtsA)</text><line class="ap" x1="468.3" y1="811" x2="483.3" y2="811"/></g>
<g id="i-n1"><text x="373.3" y="822.8">APEC E3 pVM01 (EtsA)</text><line class="ap" x1="445" y1="820.5" x2="458.3" y2="820.5"/></g>
<g id="i-n2"><text x="373.3" y="832.3">S. enterica (MacA)</text></g>
<g id="i-n3"><text x="373.3" y="841.8">APEC-O78 pAPEC-1 (EtsA)</text><line class="ap" x1="456" y1="839.5" x2="468.3" y2="839.5"/><use href="#star" x="476" y="839"/></g>
<g id="i-n4"><text x="373.3" y="851.3">UPEC HE300 p300 (EtsA)</text><line class="up" x1="451.7" y1="849" x2="466.7" y2="849"/></g>
<g id="i-n5"><text x="373.3" y="860.8">Y. intermedia (MFP)</text></g>
<g id="i-n6"><text x="373.3" y="870.3">APEC-O2pAPEC-ColV (EtsA)</text><line class="ap" x1="458.3" y1="868" x2="473.3" y2="868"/></g>
<g id="i-groups">
<path class="br" d="M487,808.3 Q490,808.3 490,811.3 L490,826.2 Q490,829.2 494,829.2 Q490,829.2 490,832.2 L490,847 Q490,850 487,850"/>
<path class="br" d="M487,862 Q490,862 490,865 L490,865.5 Q490,868.5 494,868.5 Q490,868.5 490,871.5 L490,872 Q490,875 487,875"/>
<text class="rn" x="510" y="832.5">I</text><text class="rn" x="510" y="872">II</text>
</g>
</g>
</svg>
